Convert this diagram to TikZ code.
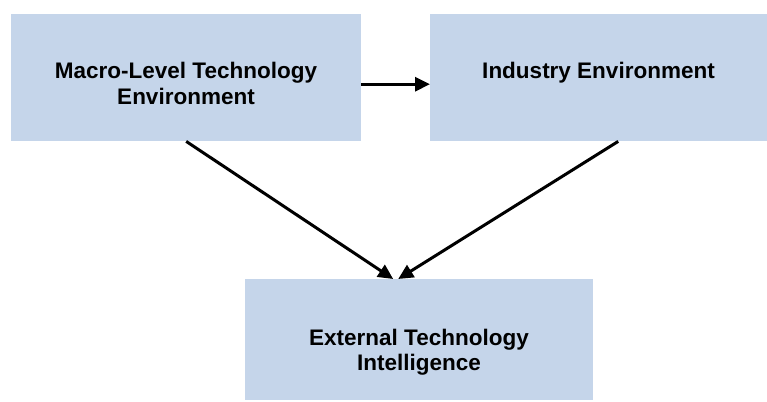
\documentclass[tikz,border=0pt]{standalone}
\usepackage{fontspec}
\setmainfont{Liberation Sans}
\usetikzlibrary{arrows.meta}
\definecolor{boxblue}{RGB}{197,213,234}
\begin{document}
\begin{tikzpicture}[x=1pt,y=-1pt,
  box/.style={fill=boxblue,draw=none,inner sep=0pt,anchor=north west},
  lbl/.style={font=\fontsize{22.5}{25}\selectfont\bfseries,align=center,anchor=base,inner sep=0pt},
  conn/.style={line width=3pt,-{Triangle[length=15pt,width=14pt]}}]
\useasboundingbox (0,0) rectangle (767,401);
\node[box,minimum width=350pt,minimum height=127pt] (A) at (11,14) {};
\node[box,minimum width=337pt,minimum height=127pt] (B) at (430,14) {};
\node[box,minimum width=348pt,minimum height=121pt] (C) at (245,279) {};
\node[lbl] (tA) at (186,104) {Macro-Level Technology\\Environment};
\node[lbl] (tB) at (598.5,79) {Industry Environment};
\node[lbl] (tC) at (419,370) {External Technology\\Intelligence};
\draw[conn] ([yshift=-6.5pt]A.east) -- ([yshift=-6.5pt]B.west);
\draw[conn] (A.south) -- ([xshift=-26pt]C.north);
\draw[conn] ([xshift=19.5pt]B.south) -- ([xshift=-21pt]C.north);
\end{tikzpicture}
\end{document}
